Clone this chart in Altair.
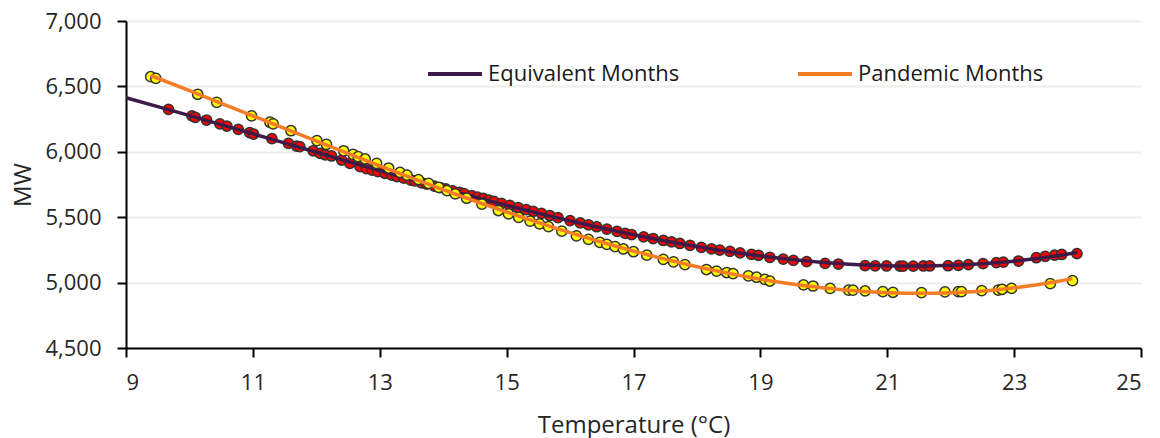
import altair as alt
import pandas as pd

# ---- data ----
eq_temp = [9.67, 10.04, 10.09, 10.27, 10.48, 10.59, 10.77, 10.95, 11.01, 11.30, 11.56, 11.69, 11.74,
           11.95, 12.06, 12.14, 12.24, 12.40, 12.53, 12.69, 12.79, 12.88, 12.97, 13.08, 13.19, 13.27,
           13.38, 13.49, 13.55, 13.66, 13.74, 13.86, 13.95, 14.04, 14.15, 14.26, 14.33, 14.45, 14.54,
           14.63, 14.72, 14.80, 14.92, 15.05, 15.18, 15.31, 15.42, 15.55, 15.68, 15.81, 16.00, 16.16,
           16.29, 16.42, 16.58, 16.74, 16.87, 16.97, 17.16, 17.31, 17.47, 17.60, 17.73, 17.89, 18.07,
           18.23, 18.36, 18.52, 18.68, 18.86, 18.97, 19.15, 19.36, 19.52, 19.73, 20.02, 20.23, 20.65,
           20.81, 20.99, 21.20, 21.25, 21.41, 21.57, 21.67, 21.96, 22.12, 22.28, 22.51, 22.72, 22.83,
           23.07, 23.35, 23.49, 23.64, 23.75, 23.99]
eq_mw = [6325, 6274, 6264, 6243, 6213, 6197, 6172, 6146, 6136, 6100, 6065, 6044, 6039,
         6008, 5988, 5976, 5968, 5937, 5912, 5886, 5871, 5860, 5849, 5835, 5821, 5811,
         5798, 5784, 5777, 5763, 5753, 5738, 5727, 5716, 5702, 5689, 5680, 5665, 5654,
         5643, 5631, 5621, 5606, 5590, 5574, 5558, 5545, 5529, 5513, 5497, 5474, 5456,
         5441, 5427, 5409, 5392, 5377, 5367, 5350, 5337, 5322, 5311, 5299, 5285, 5270,
         5258, 5249, 5238, 5227, 5216, 5209, 5193, 5180, 5170, 5160, 5147, 5142, 5130,
         5128, 5127, 5126, 5126, 5126, 5127, 5127, 5129, 5131, 5137, 5145, 5153, 5157,
         5165, 5190, 5200, 5210, 5215, 5222]

pan_temp = [9.39, 9.47, 10.13, 10.43, 10.98, 11.27, 11.32, 11.60, 12.01, 12.16, 12.43, 12.58, 12.66,
            12.77, 12.95, 13.14, 13.32, 13.43, 13.61, 13.77, 13.93, 14.06, 14.19, 14.37, 14.61, 14.87,
            15.03, 15.19, 15.37, 15.52, 15.66, 15.87, 16.10, 16.29, 16.47, 16.58, 16.71, 16.84, 17.00,
            17.21, 17.47, 17.63, 17.81, 18.15, 18.31, 18.47, 18.57, 18.81, 18.94, 19.07, 19.15, 19.68,
            19.83, 20.10, 20.39, 20.46, 20.65, 20.93, 21.09, 21.54, 21.91, 22.12, 22.17, 22.49, 22.75,
            22.81, 22.96, 23.57, 23.92]
pan_mw = [6574, 6562, 6440, 6378, 6274, 6226, 6213, 6161, 6085, 6057, 6008, 5981, 5963,
          5945, 5912, 5876, 5842, 5822, 5788, 5758, 5728, 5703, 5679, 5645, 5600, 5551,
          5525, 5499, 5470, 5449, 5428, 5393, 5357, 5331, 5307, 5292, 5275, 5257, 5236,
          5210, 5178, 5159, 5137, 5100, 5088, 5077, 5069, 5051, 5041, 5025, 5012, 4982,
          4974, 4956, 4943, 4943, 4936, 4931, 4926, 4923, 4929, 4931, 4931, 4939, 4943,
          4949, 4956, 4992, 5015]

series_names = ["Equivalent Months", "Pandemic Months"]
line_colors = ["#3D1A48", "#F47C24"]
dot_colors = ["#FF0000", "#FFFF00"]
x_ticks = [9, 11, 13, 15, 17, 19, 21, 23, 25]
y_ticks = [4500, 5000, 5500, 6000, 6500, 7000]

eq_df = pd.DataFrame({"temp": eq_temp, "mw": eq_mw})
pan_df = pd.DataFrame({"temp": pan_temp, "mw": pan_mw})

FONT = "Open Sans"

x_enc = alt.X("temp:Q",
              scale=alt.Scale(domain=[9, 25], nice=False, zero=False),
              axis=alt.Axis(values=x_ticks, title="Temperature (°C)", grid=False,
                            labelPadding=15, titlePadding=20))
y_enc = alt.Y("mw:Q",
              scale=alt.Scale(domain=[4500, 7000], nice=False, zero=False),
              axis=alt.Axis(values=y_ticks, format=",d", title="MW", grid=True,
                            labelPadding=16, titlePadding=9))

color_scale = alt.Scale(domain=series_names, range=line_colors)
legend = alt.Legend(orient="none", legendX=300, legendY=24, direction="horizontal",
                    title=None, symbolType="stroke", symbolSize=2916, symbolStrokeWidth=4,
                    labelFontSize=22, labelFont=FONT, labelColor="#1a1a1a", labelLimit=400,
                    columnPadding=110, labelOffset=4)

red_pts = alt.Chart(eq_df).mark_circle(size=105, fill=dot_colors[0], stroke="#333333",
                                        strokeWidth=1.5, opacity=1).encode(x=x_enc, y=y_enc)
yel_pts = alt.Chart(pan_df).mark_circle(size=105, fill=dot_colors[1], stroke="#333333",
                                         strokeWidth=1.5, opacity=1).encode(x=x_enc, y=y_enc)

eq_line = (alt.Chart(eq_df)
           .transform_regression("temp", "mw", method="poly", order=3, extent=[9, 24])
           .transform_calculate(series="'Equivalent Months'")
           .mark_line(strokeWidth=3.5)
           .encode(x=x_enc, y=y_enc,
                   color=alt.Color("series:N", scale=color_scale, legend=legend)))
pan_line = (alt.Chart(pan_df)
            .transform_regression("temp", "mw", method="poly", order=3)
            .transform_calculate(series="'Pandemic Months'")
            .mark_line(strokeWidth=3.5)
            .encode(x=x_enc, y=y_enc,
                    color=alt.Color("series:N", scale=color_scale, legend=legend)))

chart = (alt.layer(red_pts, eq_line, yel_pts, pan_line)
         .properties(width=1015, height=327,
                     autosize=alt.AutoSizeParams(type="none"),
                     padding={"left": 118, "top": 13, "right": 11, "bottom": 90})
         .configure_view(stroke=None)
         .configure_axis(labelFont=FONT, titleFont=FONT, labelFontSize=22, titleFontSize=24,
                         labelColor="#262626", titleColor="#262626", titleFontWeight="normal",
                         domainColor="#000000", domainWidth=2, tickColor="#000000", tickWidth=2,
                         tickSize=9, gridColor="#EDEDED", gridWidth=1.8))

chart.save("out.html", embed_options={"renderer": "svg", "actions": False})
